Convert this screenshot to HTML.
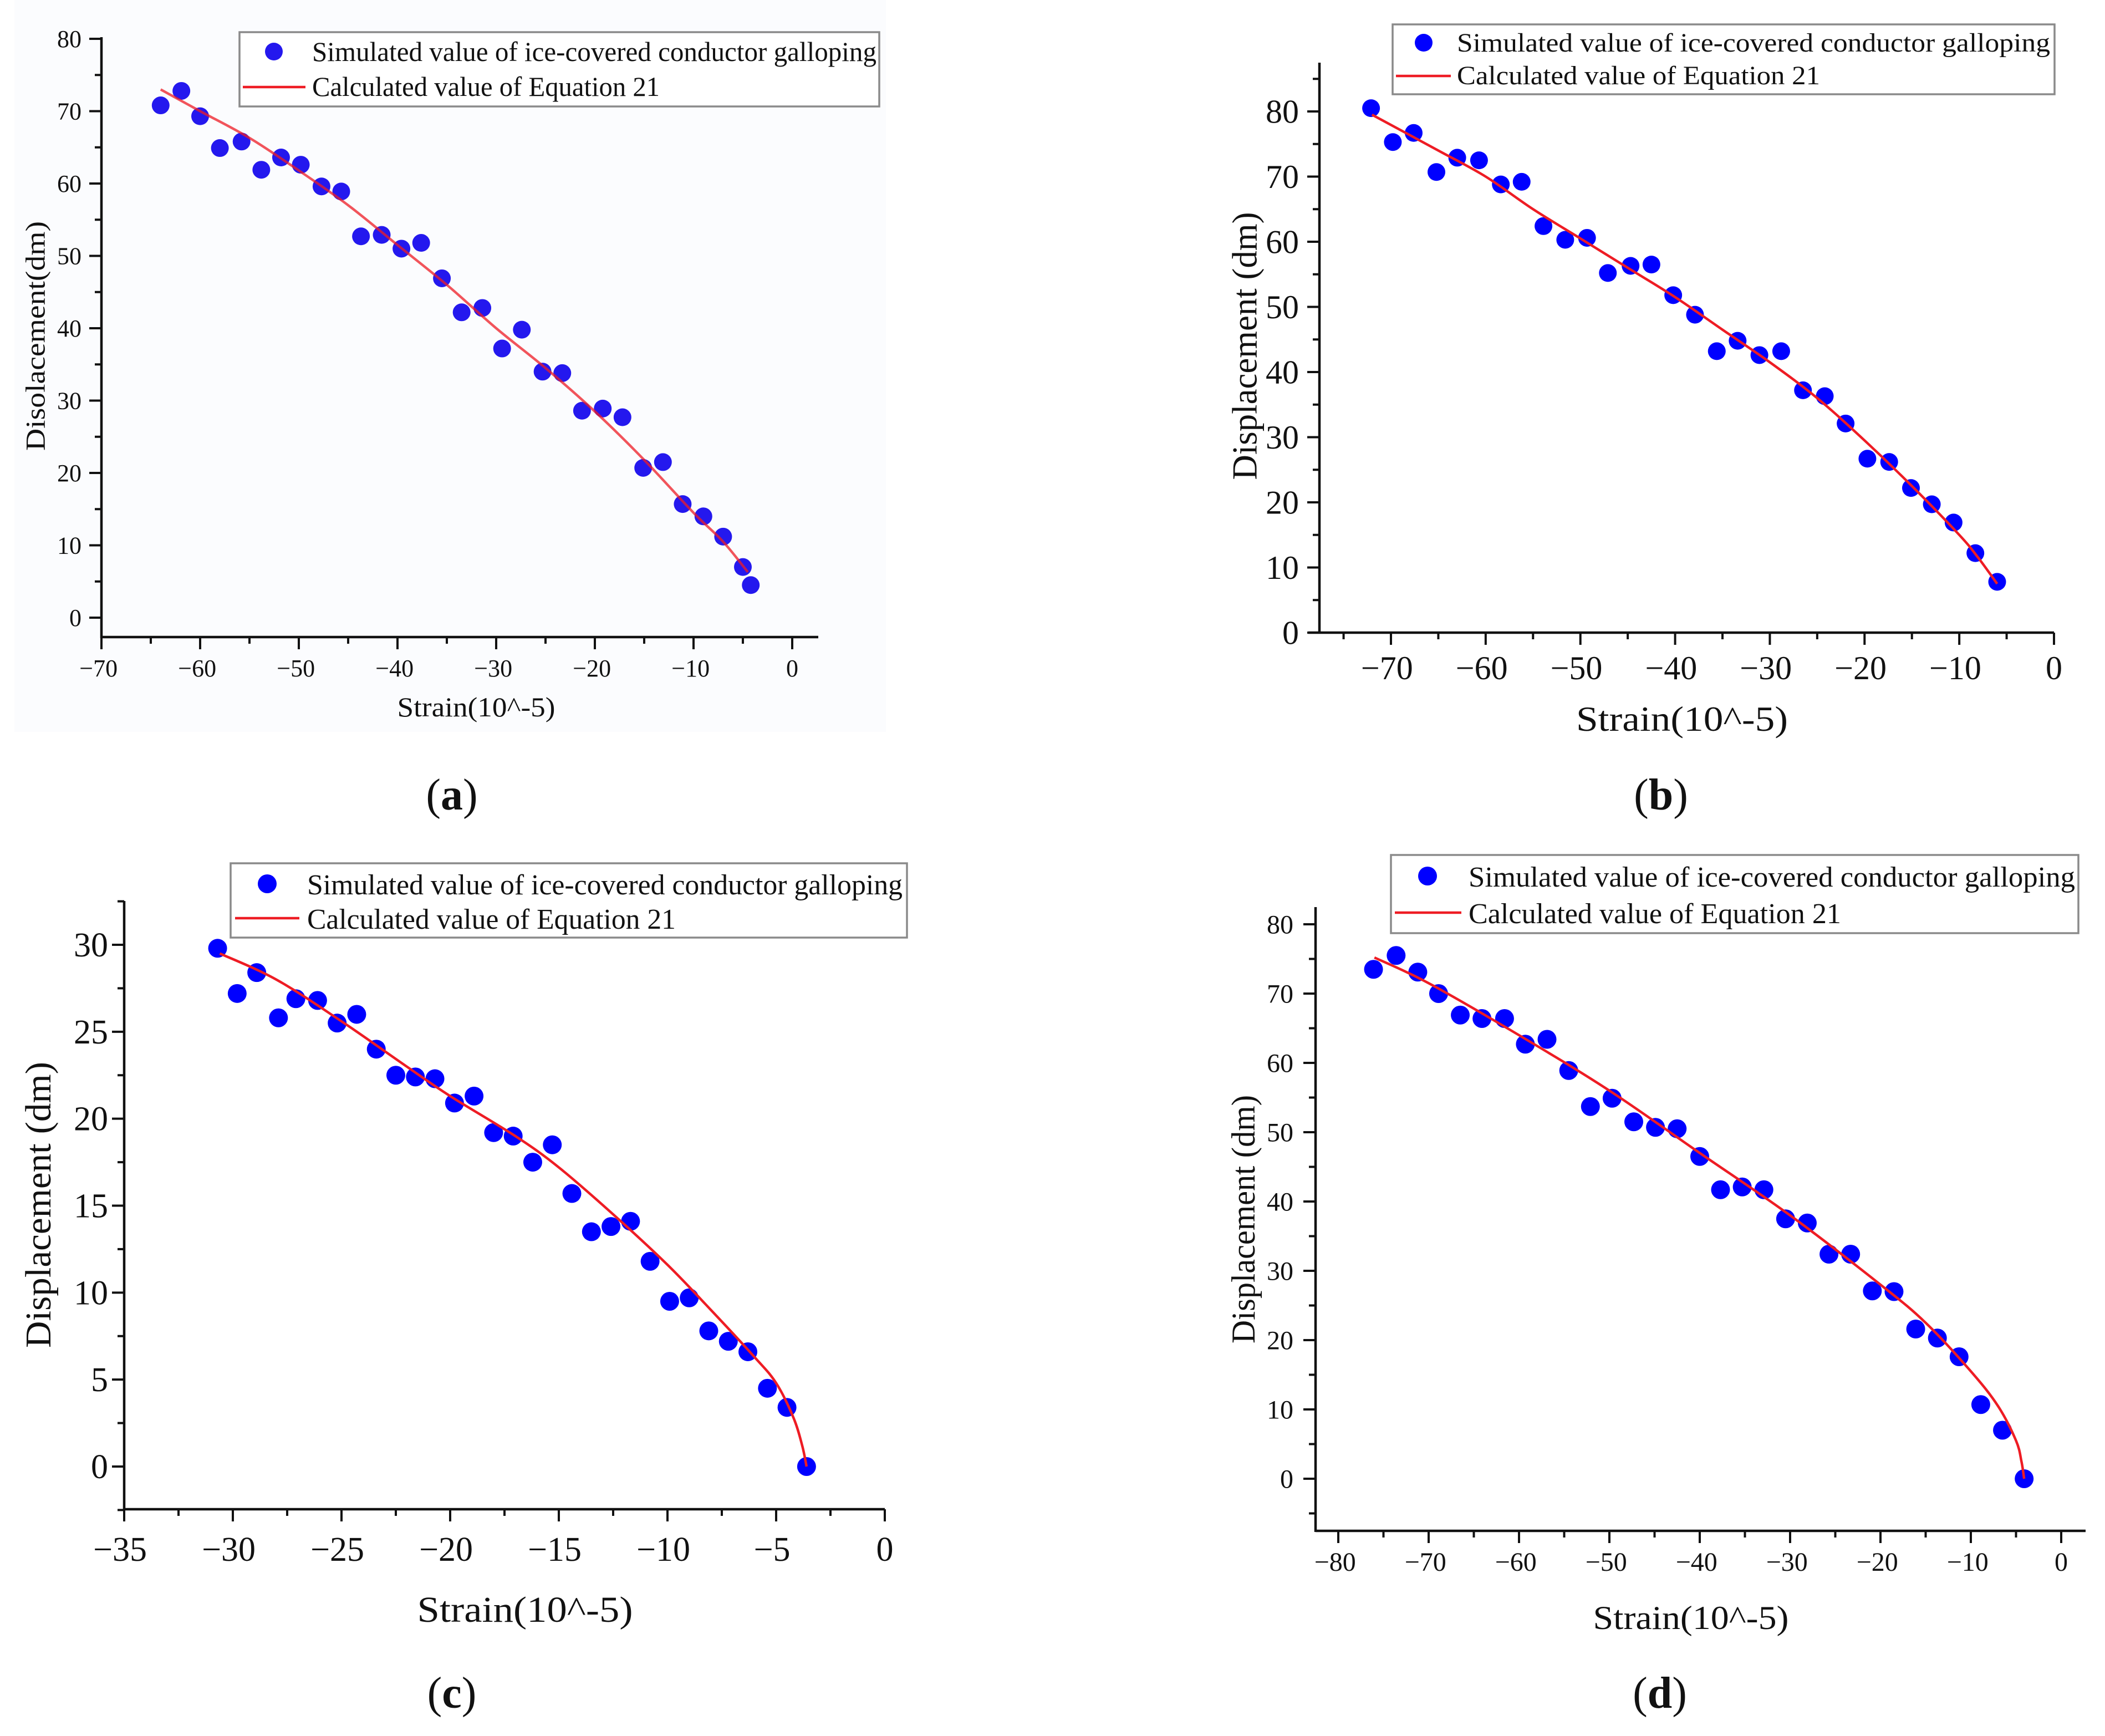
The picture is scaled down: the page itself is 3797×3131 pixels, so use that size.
<!DOCTYPE html>
<html><head><meta charset="utf-8">
<style>
html,body{margin:0;padding:0;background:#fff;}
svg{display:block;}
svg text{font-family:"Liberation Serif","Times New Roman",serif;fill:#111;}
</style></head>
<body>
<svg id="fig" width="3797" height="3131" viewBox="0 0 3797 3131" xmlns="http://www.w3.org/2000/svg" font-family="Liberation Serif, serif">
<rect x="26" y="0" width="1572" height="1320" fill="#fbfcfe"/>
</svg>
<script>
// ---------- data (a) ----------
const aStrain = [-64.0,-61.9,-60.0,-58.0,-55.8,-53.8,-51.8,-49.8,-47.7,-45.7,-43.7,-41.6,-39.6,-37.6,-35.5,-33.5,-31.4,-29.4,-27.4,-25.3,-23.3,-21.3,-19.2,-17.2,-15.1,-13.1,-11.1,-9.0,-7.0,-5.0,-4.2];
const aDisp   = [70.8,72.8,69.3,64.9,65.8,61.9,63.6,62.6,59.6,58.9,52.7,52.9,51.0,51.8,46.9,42.2,42.8,37.2,39.8,34.0,33.8,28.6,28.9,27.7,20.7,21.5,15.7,14.0,11.2,7.0,4.5];
const aCurveX = [-64,-60,-55,-50,-45,-40,-35,-30,-25,-20,-15,-10,-7,-4.5];
const aCurveY = [73,70,66.3,61.8,57,51.5,46,40,34.5,28.5,21.8,14.5,10.5,6.3];
// ---------- data (b) ----------
const bStrain = [-72.1,-69.8,-67.6,-65.2,-63.0,-60.7,-58.4,-56.2,-53.9,-51.6,-49.3,-47.1,-44.7,-42.5,-40.2,-37.9,-35.6,-33.4,-31.1,-28.8,-26.5,-24.2,-22.0,-19.7,-17.4,-15.1,-12.9,-10.6,-8.3,-6.0];
const bDisp   = [80.5,75.3,76.7,70.7,72.9,72.5,68.8,69.2,62.4,60.3,60.6,55.2,56.3,56.5,51.8,48.8,43.2,44.8,42.6,43.2,37.2,36.3,32.1,26.7,26.2,22.2,19.7,16.9,12.2,7.8];
const bCurveX = [-72,-65,-60,-55,-50,-45,-40,-35,-30,-25,-20,-15,-10,-8,-6];
const bCurveY = [79.5,74,70,65,60.5,56,51.5,46.5,41.5,36,29.5,22.5,15,11.5,7.5];
// ---------- data (c) ----------
const cStrain = [-30.7,-29.8,-28.9,-27.9,-27.1,-26.1,-25.2,-24.3,-23.4,-22.5,-21.6,-20.7,-19.8,-18.9,-18.0,-17.1,-16.2,-15.3,-14.4,-13.5,-12.6,-11.7,-10.8,-9.9,-9.0,-8.1,-7.2,-6.3,-5.4,-4.5,-3.6];
const cDisp   = [29.8,27.2,28.4,25.8,26.9,26.8,25.5,26.0,24.0,22.5,22.4,22.3,20.9,21.3,19.2,19.0,17.5,18.5,15.7,13.5,13.8,14.1,11.8,9.5,9.7,7.8,7.2,6.6,4.5,3.4,0];
const cCurveX = [-30.6,-28,-25,-22,-20,-17,-15,-12.5,-10,-8,-6,-5,-4.2,-3.8,-3.6];
const cCurveY = [29.5,28,25.6,23,21.3,19,17.2,14.5,11.6,9,6.3,4.8,2.8,1.2,0];
// ---------- data (d) ----------
const dStrain = [-76.1,-73.6,-71.2,-68.9,-66.5,-64.1,-61.6,-59.3,-56.9,-54.5,-52.1,-49.7,-47.3,-44.9,-42.5,-40.0,-37.7,-35.3,-32.9,-30.5,-28.1,-25.7,-23.3,-20.9,-18.5,-16.1,-13.7,-11.3,-8.9,-6.5,-4.1];
const dDisp   = [73.5,75.5,73.1,70.0,66.9,66.4,66.4,62.7,63.4,58.9,53.7,54.9,51.5,50.7,50.5,46.5,41.7,42.1,41.7,37.5,36.9,32.4,32.4,27.1,27.0,21.6,20.3,17.6,10.7,7.0,0];
const dCurveX = [-76,-70,-60,-50,-40,-30,-20,-15,-10,-7,-5,-4.4,-4.1];
const dCurveY = [75.2,71.5,64,56,47,38,28,22.5,15.5,10.5,5.5,2.5,0];
// ---------- tick labels ----------
const aXTicks = [-70,-60,-50,-40,-30,-20,-10,0];
const aYTicks = [0,10,20,30,40,50,60,70,80];
const bXTicks = [-70,-60,-50,-40,-30,-20,-10,0];
const bYTicks = [0,10,20,30,40,50,60,70,80];
const cXTicks = [-35,-30,-25,-20,-15,-10,-5,0];
const cYTicks = [0,5,10,15,20,25,30];
const dXTicks = [-80,-70,-60,-50,-40,-30,-20,-10,0];
const dYTicks = [0,10,20,30,40,50,60,70,80];

const NS = "http://www.w3.org/2000/svg";
const FONT = '"Liberation Serif", "Times New Roman", serif';
const svg = document.getElementById('fig');
function mk(tag, attrs, parent){
  const e = document.createElementNS(NS, tag);
  for (const k in attrs) e.setAttribute(k, attrs[k]);
  if (tag === 'text') e.style.fontFamily = FONT;
  (parent||svg).appendChild(e);
  return e;
}
function fmt(v){ return v<0 ? '\u2212'+Math.abs(v) : String(v); }

function drawPanel(P){
  const g = mk('g', {});
  
  
  const sx = v => P.x0 + (v - P.vx0) * (P.x1 - P.x0) / (P.vx1 - P.vx0);
  const sy = v => P.y0 + (v - P.vy0) * (P.y1 - P.y0) / (P.vy1 - P.vy0);
  const ya = mk('line', {x1:P.axX, y1:P.yTop, x2:P.axX, y2:P.axY+2, stroke:'#111','stroke-width':P.lw}, g);
  
  
  const xa = mk('line', {x1:P.xStart, y1:P.axY, x2:P.xEnd, y2:P.axY, stroke:'#111','stroke-width':P.lw}, g);
  
  
  for (let v = P.xMin; v <= P.xMax + 1e-9; v += P.xMinor){
    const major = P.xTicks.some(t => Math.abs(t - v) < 1e-6);
    const px = sx(v);
    const t = mk('line', {x1:px, y1:P.axY, x2:px, y2:P.axY + (major?22:12), stroke:'#111','stroke-width':P.lw-0.5}, g);
    
    
  }
  P.xTicks.forEach(v => {
    const t = mk('text', {x:sx(v) - P.tf*0.12*(v<0?1:0), y:P.xLabBase, 'font-size':P.tf, 'text-anchor':'middle'}, g);
    t.textContent = fmt(v);
    
    
  });
  for (let v = P.yMin; v <= P.yMax + 1e-9; v += P.yMinor){
    const major = P.yTicks.some(t => Math.abs(t - v) < 1e-6);
    const py = sy(v);
    const t = mk('line', {x1:P.axX, y1:py, x2:P.axX - (major?22:12), y2:py, stroke:'#111','stroke-width':P.lw-0.5}, g);
    
    
  }
  P.yTicks.forEach(v => {
    const t = mk('text', {x:P.yLabRight, y:sy(v) + P.tf*0.34, 'font-size':P.tf, 'text-anchor':'end'}, g);
    t.textContent = fmt(v);
    
    
  });
  const xt = mk('text', {x:P.xtX, y:P.xtY, 'font-size':P.af, 'text-anchor':'middle', textLength:P.xtLen, lengthAdjust:'spacingAndGlyphs'}, g);
  xt.textContent = 'Strain(10^-5)';
  
  
  const yt = mk('text', {x:0, y:0, 'font-size':P.af, 'text-anchor':'middle', textLength:P.ytLen, lengthAdjust:'spacingAndGlyphs',
    transform:'translate('+(P.ytX + P.af*0.35)+','+P.ytY+') rotate(-90)'}, g);
  yt.textContent = P.ytText;
  
  
  P.xs.forEach((v, i) => {
    const c = mk('circle', {cx:sx(v), cy:sy(P.ys[i]), r:P.r, fill:P.dot}, g);
    
    
  });
  const pts = P.cx.map((v, i) => [sx(v), sy(P.cy[i])]);
  let d = 'M' + pts[0][0] + ',' + pts[0][1];
  for (let i = 0; i < pts.length - 1; i++){
    const p0 = pts[Math.max(0,i-1)], p1 = pts[i], p2 = pts[i+1], p3 = pts[Math.min(pts.length-1,i+2)];
    const c1 = [p1[0] + (p2[0]-p0[0])/6, p1[1] + (p2[1]-p0[1])/6];
    const c2 = [p2[0] - (p3[0]-p1[0])/6, p2[1] - (p3[1]-p1[1])/6];
    d += ' C' + c1[0] + ',' + c1[1] + ' ' + c2[0] + ',' + c2[1] + ' ' + p2[0] + ',' + p2[1];
  }
  const cur = mk('path', {d:d, fill:'none', stroke:'#ee1c24', 'stroke-width':4.5, 'stroke-opacity':P.lineOp}, g);
  
  
  const L = P.leg;
  const lg = mk('g', {}, g);
  
  
  mk('rect', {x:L.x, y:L.y, width:L.w, height:L.h, fill:'#fff', stroke:'#8a8a8a', 'stroke-width':3.5}, lg);
  const lm = mk('circle', {cx:L.mx, cy:L.my, r:P.r, fill:P.dot}, lg);
  
  
  const ll = mk('line', {x1:L.lx1, y1:L.ly, x2:L.lx2, y2:L.ly, stroke:'#ee1c24', 'stroke-width':4.5}, lg);
  
  
  const t1 = mk('text', {x:L.tx, y:L.b1, 'font-size':L.f, textLength:L.tl, lengthAdjust:'spacingAndGlyphs'}, lg);
  t1.textContent = 'Simulated value of ice-covered conductor galloping';
  
  
  const t2 = mk('text', {x:L.tx, y:L.b2, 'font-size':L.f, textLength:L.tl2, lengthAdjust:'spacingAndGlyphs'}, lg);
  t2.textContent = 'Calculated value of Equation 21';
  
  
  if (P.cap){
    const cp = mk('text', {x:P.cap.x, y:P.cap.y, 'font-size':80, 'text-anchor':'middle'}, g);
    
    
    mk('tspan', {}, cp).textContent = '(';
    mk('tspan', {'font-weight':'bold'}, cp).textContent = P.id;
    mk('tspan', {}, cp).textContent = ')';
  }
}

drawPanel({id:'a', x0:183, vx0:-70, x1:1429, vx1:0, y0:1114, vy0:0, y1:70, vy1:80,
  axX:183, axY:1149, yTop:67, xStart:183, xEnd:1476, lw:4.5,
  xMin:-70, xMax:0, xMinor:5, yMin:0, yMax:80, yMinor:5, xTicks:aXTicks, yTicks:aYTicks,
  tf:44, xLabBase:1220, yLabRight:147, af:50,
  xtX:859, xtY:1292, xtLen:285, ytX:63, ytY:606, ytLen:414, ytText:'Disolacement(dm)',
  xs:aStrain, ys:aDisp, cx:aCurveX, cy:aCurveY, r:16, dot:'#2418ee', lineOp:0.75,
  leg:{x:432, y:58, w:1154, h:134, mx:494, my:93, lx1:438, lx2:551, ly:157, tx:563, b1:110, b2:173, f:50, tl:1018, tl2:627},
  cap:{x:815, y:1460}});

drawPanel({id:'b', x0:2509, vx0:-70, x1:3705, vx1:0, y0:1141, vy0:0, y1:201, vy1:80,
  axX:2380, axY:1141, yTop:113, xStart:2360, xEnd:3705, lw:4.5,
  xMin:-75, xMax:0, xMinor:5, yMin:0, yMax:85, yMinor:5, xTicks:bXTicks, yTicks:bYTicks,
  tf:60, xLabBase:1225, yLabRight:2343, af:64,
  xtX:3034, xtY:1318, xtLen:382, ytX:2244, ytY:624, ytLen:483, ytText:'Displacement (dm)',
  xs:bStrain, ys:bDisp, cx:bCurveX, cy:bCurveY, r:16, dot:'#0000ff', lineOp:1,
  leg:{x:2512, y:44, w:1194, h:126, mx:2568, my:77, lx1:2518, lx2:2617, ly:137, tx:2628, b1:93, b2:152, f:48, tl:1070, tl2:655},
  cap:{x:2996, y:1460}});

drawPanel({id:'c', x0:224, vx0:-35, x1:1596, vx1:0, y0:2645, vy0:0, y1:1704, vy1:30,
  axX:224, axY:2722, yTop:1625, xStart:224, xEnd:1596, lw:4.5,
  xMin:-35, xMax:0, xMinor:2.5, yMin:-2.5, yMax:32.5, yMinor:2.5, xTicks:cXTicks, yTicks:cYTicks,
  tf:62, xLabBase:2815, yLabRight:195, af:66,
  xtX:947, xtY:2925, xtLen:389, ytX:68, ytY:2173, ytLen:516, ytText:'Displacement (dm)',
  xs:cStrain, ys:cDisp, cx:cCurveX, cy:cCurveY, r:17, dot:'#0000ff', lineOp:1,
  leg:{x:416, y:1557, w:1220, h:134, mx:482, my:1594, lx1:424, lx2:540, ly:1656, tx:554, b1:1613, b2:1675, f:52, tl:1074, tl2:665},
  cap:{x:815, y:3080}});

drawPanel({id:'d', x0:2414, vx0:-80, x1:3718, vx1:0, y0:2667, vy0:0, y1:1667, vy1:80,
  axX:2373, axY:2761, yTop:1636, xStart:2373, xEnd:3762, lw:4.5,
  xMin:-80, xMax:0, xMinor:5, yMin:-5, yMax:80, yMinor:5, xTicks:dXTicks, yTicks:dYTicks,
  tf:48, xLabBase:2833, yLabRight:2333, af:60,
  xtX:3050, xtY:2938, xtLen:353, ytX:2242, ytY:2199, ytLen:448, ytText:'Displacement (dm)',
  xs:dStrain, ys:dDisp, cx:dCurveX, cy:dCurveY, r:17, dot:'#0000ff', lineOp:1,
  leg:{x:2509, y:1542, w:1240, h:141, mx:2575, my:1580, lx1:2516, lx2:2636, ly:1646, tx:2649, b1:1599, b2:1665, f:52, tl:1094, tl2:672},
  cap:{x:2994, y:3080}});
</script>
</body></html>
